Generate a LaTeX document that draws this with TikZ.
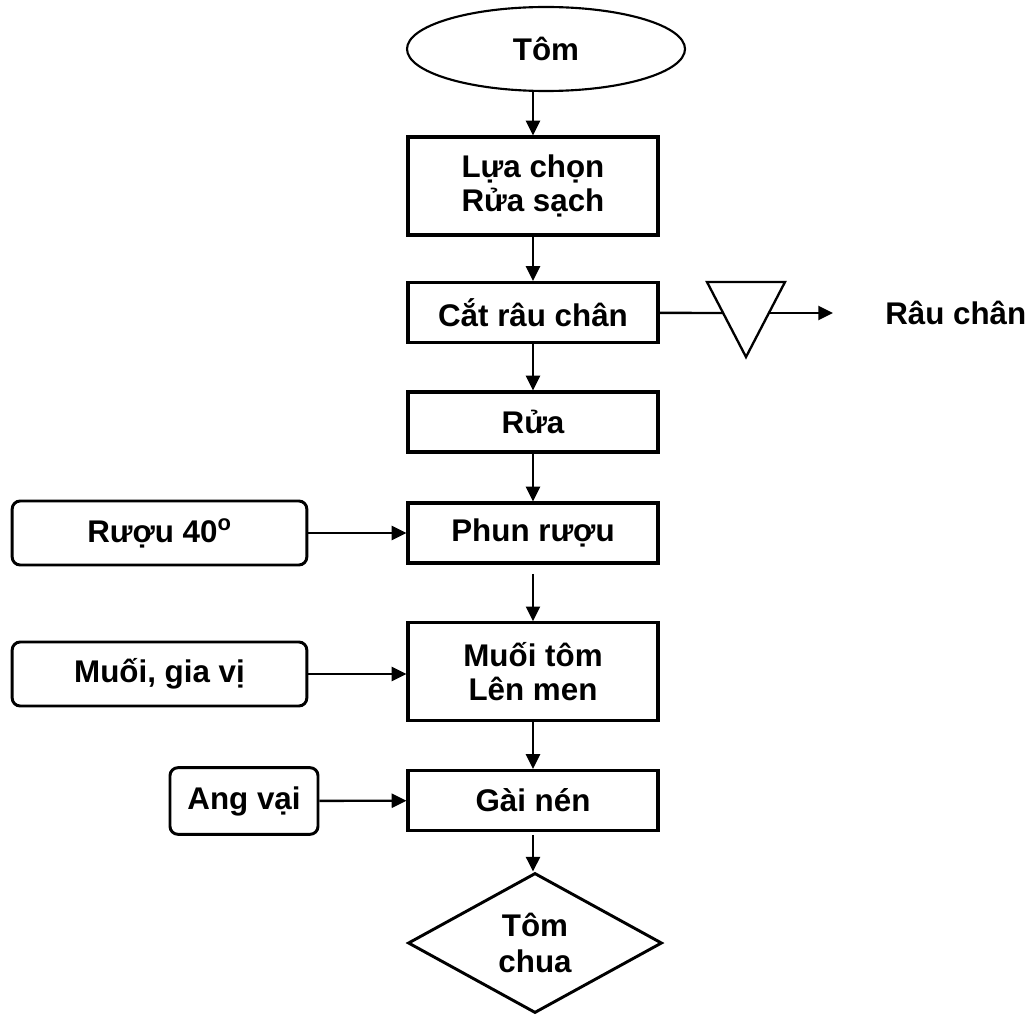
\documentclass[tikz,border=0pt]{standalone}
\usepackage{fontspec}
\setmainfont{Liberation Sans}
\usetikzlibrary{arrows.meta,shapes.geometric}

\begin{document}
\begin{tikzpicture}[x=0.75pt, y=-0.75pt,
        boxnode/.style={rectangle, draw=black, line width=2.4pt, inner sep=0pt,
            minimum width=187.5pt, minimum height=45pt, align=center,
            font=\fontsize{23.5}{25}\selectfont\bfseries},
        inputnode/.style={boxnode, rounded corners=6pt, line width=2.2pt,
            minimum width=221pt, minimum height=48pt},
        flow/.style={line width=1.75pt, -{Triangle[length=11pt, width=10.5pt]}}]
        \useasboundingbox (0, 0) rectangle (1028, 1016);
        \node [boxnode, ellipse, line width=1.6pt, minimum width=208.5pt, minimum height=63pt] at (546, 49) (tom) {Tôm};
        \node [boxnode, minimum height=73.5pt] at (533, 186)   (chon)  {Lựa chọn\\Rửa sạch};
        \node [boxnode] at (533, 312.5) (cat)   {Cắt râu chân};
        \node [boxnode] at (533, 422)   (rua)   {Rửa};
        \node [boxnode] at (533, 533)   (phun)  {Phun rượu};
        \node [boxnode, minimum height=73pt] at (533, 671.5) (muoi) {Muối tôm\\Lên men};
        \node [boxnode] at (533, 800.5) (gai)   {Gài nén};
        \node [boxnode, diamond, line width=2.2pt, minimum width=190.5pt, minimum height=105pt,
            font=\fontsize{23.5}{27}\selectfont\bfseries] at (535, 943) (chua) {Tôm\\chua};
        \node [inputnode] at (159.5, 533) (ruou)  {Rượu 40\textsuperscript{o}};
        \node [inputnode] at (159.5, 674) (giavi) {Muối, gia vị};
        \node [inputnode, minimum width=111pt, minimum height=50pt] at (244, 801) (ang) {Ang vại};
        \node [anchor=west, inner sep=0pt, font=\fontsize{23.5}{25}\selectfont\bfseries] at (885, 313) (rau) {Râu chân};
        % sieve
        \draw [line width=1.75pt] (707, 282) -- (785, 282) -- (746, 357) -- cycle;
        \coordinate (sievein)  at (723, 313);
        \coordinate (sieveout) at (769, 313);
        \draw [flow] (chon.north |- tom.south) -- (chon.north);
        \draw [flow] (chon) -- (cat);
        \draw [flow] (cat) -- (rua);
        \draw [flow] (rua) -- (phun);
        \draw [flow, shorten <=7pt] (phun) -- (muoi);
        \draw [flow] (muoi) -- (gai);
        \draw [flow, shorten <=2pt] (gai.south) -- (gai.south |- chua.north);
        \draw [line width=1.75pt] (cat) -- (sievein);
        \draw [flow, shorten >=39pt] (sieveout) -- (rau);
        \draw [flow] (ruou) -- (phun);
        \draw [flow] (giavi.east) -- (giavi.east -| muoi.west);
        \draw [flow] (ang) -- (gai);
    \end{tikzpicture}
\end{document}
